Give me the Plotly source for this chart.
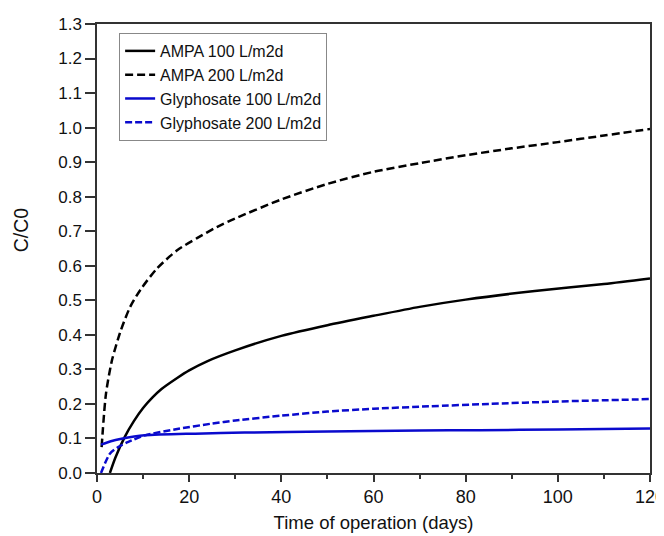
import plotly.graph_objects as go

ampa100_x = [2.8, 4, 6, 8, 10, 12, 14, 17.4, 20, 24, 30, 40, 50, 60, 70, 80, 95, 110, 120]
ampa100_y = [0.0, 0.045, 0.104, 0.15, 0.188, 0.218, 0.243, 0.275, 0.297, 0.324, 0.355, 0.397, 0.428, 0.455, 0.481, 0.502, 0.527, 0.547, 0.563]

ampa200_x = [1, 1.95, 3.26, 5.2, 7.2, 9.4, 13, 17.4, 21.7, 26, 30, 40, 50, 60, 70, 80, 90, 100, 110, 120]
ampa200_y = [0.075, 0.23, 0.327, 0.414, 0.481, 0.53, 0.592, 0.645, 0.680, 0.712, 0.737, 0.792, 0.837, 0.872, 0.897, 0.92, 0.94, 0.958, 0.977, 0.996]

gly100_x = [0.87, 3, 5.3, 10.4, 21.3, 32, 50, 70, 83, 100, 120]
gly100_y = [0.082, 0.092, 0.099, 0.109, 0.114, 0.117, 0.12, 0.123, 0.124, 0.126, 0.129]

gly200_x = [0.87, 2.8, 4.6, 6.8, 10.4, 17.7, 24.9, 30, 40, 50, 60, 72, 85, 100, 120]
gly200_y = [0.0, 0.056, 0.075, 0.09, 0.109, 0.128, 0.143, 0.152, 0.166, 0.178, 0.186, 0.193, 0.2, 0.207, 0.214]

names = ["AMPA 100 L/m2d", "AMPA 200 L/m2d", "Glyphosate 100 L/m2d", "Glyphosate 200 L/m2d"]
x_ticks = [0, 20, 40, 60, 80, 100, 120]
x_minor = [10, 30, 50, 70, 90, 110]
y_ticks = [i / 10 for i in range(14)]
y_ticktext = [f"{v:.1f}" for v in y_ticks]
x_title = "Time of operation (days)"
y_title = "C/C0"

black = "#000000"
blue = "#0a0acd"
sm = 0.7

fig = go.Figure()
fig.add_trace(go.Scatter(x=ampa100_x, y=ampa100_y, name=names[0], mode="lines",
                         line=dict(color=black, width=2.5, shape="spline", smoothing=sm)))
fig.add_trace(go.Scatter(x=ampa200_x, y=ampa200_y, name=names[1], mode="lines",
                         line=dict(color=black, width=2.5, dash="8px,4px", shape="spline", smoothing=sm)))
fig.add_trace(go.Scatter(x=gly100_x, y=gly100_y, name=names[2], mode="lines",
                         line=dict(color=blue, width=2.5, shape="spline", smoothing=sm)))
fig.add_trace(go.Scatter(x=gly200_x, y=gly200_y, name=names[3], mode="lines",
                         line=dict(color=blue, width=2.5, dash="7px,3px", shape="spline", smoothing=sm)))

font_family = "Liberation Sans, Arial, sans-serif"
axis_col = "#333333"
fig.update_layout(
    width=656, height=528,
    margin=dict(l=89, r=14, t=16, b=63),
    paper_bgcolor="white", plot_bgcolor="white",
    font=dict(family=font_family, color="#111111", size=16),
    showlegend=True,
    legend=dict(x=0.04, y=0.98, xanchor="left", yanchor="top",
                bgcolor="white", bordercolor="#888888", borderwidth=1,
                font=dict(size=16, family=font_family), tracegroupgap=0,
                itemwidth=30),
    xaxis=dict(range=[0, 120], tickmode="array", tickvals=x_ticks,
               ticks="outside", ticklen=7, tickwidth=1.5, tickcolor=axis_col,
               showline=True, linecolor=axis_col, linewidth=1.5, mirror=True,
               showgrid=False, zeroline=False, ticklabeloverflow="allow",
               automargin=False,
               tickfont=dict(size=18),
               minor=dict(tickvals=x_minor, ticks="outside", ticklen=4,
                          tickwidth=1.5, tickcolor=axis_col, showgrid=False),
               title=dict(text=x_title, font=dict(size=18.5), standoff=10)),
    yaxis=dict(range=[0, 1.3], tickmode="array",
               tickvals=y_ticks, ticktext=y_ticktext,
               ticks="outside", ticklen=10, tickwidth=1.5, tickcolor=axis_col,
               showline=True, linecolor=axis_col, linewidth=1.5, mirror=True,
               showgrid=False, zeroline=False, automargin=False,
               tickfont=dict(size=17)),
    annotations=[dict(text=y_title, xref="paper", yref="paper",
                      x=-0.137, y=0.541, xanchor="center", yanchor="middle",
                      textangle=-90, showarrow=False,
                      font=dict(size=19.5, family=font_family, color="#111111"))],
)

fig.write_html("out.html")
